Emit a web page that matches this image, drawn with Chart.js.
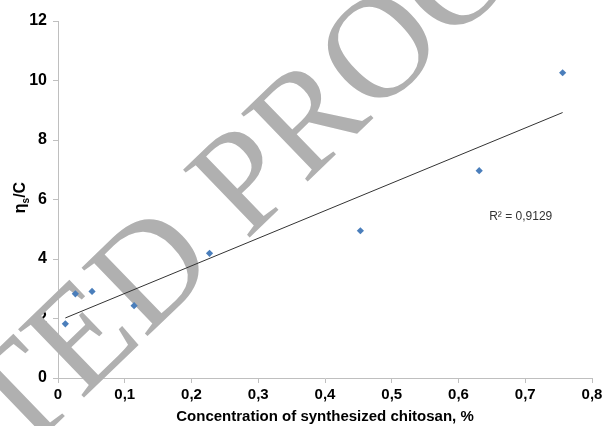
<!DOCTYPE html>
<html>
<head>
<meta charset="utf-8">
<script src="https://cdn.jsdelivr.net/npm/chart.js@4"></script>
<style>
  html, body { margin: 0; padding: 0; background: #fff; }
  #wrap { width: 608px; height: 426px; }
</style>
</head>
<body>
<div id="wrap"><canvas id="chart" width="608" height="426"></canvas></div>
<script>
// values
const concentration = [0.011, 0.026, 0.051, 0.114, 0.227, 0.453, 0.631, 0.756];
const viscosity = [1.82, 2.83, 2.91, 2.43, 4.19, 4.95, 6.97, 10.26];
const xTicks = [0, 0.1, 0.2, 0.3, 0.4, 0.5, 0.6, 0.7, 0.8];
const yTicks = [0, 2, 4, 6, 8, 10, 12];
const r2Label = "R\u00b2 = 0,9129";
const watermark = "UNCORRECTED PROOF";

const FONT = "'Liberation Sans Narrow', 'Liberation Sans', Arial, sans-serif";

// linear trendline (least squares), drawn over the data range
const fitLine = (xs, ys) => {
  const n = xs.length;
  const mx = xs.reduce((a, b) => a + b, 0) / n;
  const my = ys.reduce((a, b) => a + b, 0) / n;
  let sxy = 0, sxx = 0;
  xs.forEach((x, i) => { sxy += (x - mx) * (ys[i] - my); sxx += (x - mx) ** 2; });
  const k = sxy / sxx, b = my - k * mx;
  const x0 = Math.min(...xs), x1 = Math.max(...xs);
  return [{ x: x0, y: k * x0 + b }, { x: x1, y: k * x1 + b }];
};

const points = concentration.map((x, i) => ({ x, y: viscosity[i] }));

const watermarkPlugin = {
  id: "watermark",
  beforeDatasetsDraw(chart) {
    const ctx = chart.ctx;
    ctx.save();
    ctx.font = "145px 'Liberation Serif', 'DejaVu Serif', serif";
    ctx.fillStyle = "#b0b0b0";
    ctx.textBaseline = "alphabetic";
    ctx.translate(246, 241);
    ctx.rotate(-44 * Math.PI / 180);
    const off = ctx.measureText("UNCORRECTED ").width;
    ctx.fillText(watermark, -off, 0);
    ctx.restore();
  },
};

const labelsPlugin = {
  id: "labels",
  afterDatasetsDraw(chart) {
    const ctx = chart.ctx;
    const { x, y } = chart.scales;
    ctx.save();
    // R² label
    ctx.font = "12px " + FONT;
    ctx.fillStyle = "#333";
    ctx.textBaseline = "middle";
    ctx.textAlign = "left";
    ctx.fillText(r2Label, x.getPixelForValue(0.646), y.getPixelForValue(5.42));
    ctx.restore();

    // y axis title with subscript
    ctx.save();
    ctx.translate(21, (y.top + y.bottom) / 2 - 2);
    ctx.rotate(-Math.PI / 2);
    ctx.fillStyle = "#000";
    ctx.textBaseline = "middle";
    ctx.font = "bold 16px " + FONT;
    const w1 = ctx.measureText("\u03b7").width;
    ctx.font = "bold 10px " + FONT;
    const w2 = ctx.measureText("s").width;
    ctx.font = "bold 16px " + FONT;
    const w3 = ctx.measureText("/C").width;
    let cx = -(w1 + w2 + w3) / 2;
    ctx.textAlign = "left";
    ctx.fillText("\u03b7", cx, 0);
    cx += w1;
    ctx.font = "bold 10px " + FONT;
    ctx.fillText("s", cx, 5);
    cx += w2;
    ctx.font = "bold 16px " + FONT;
    ctx.fillText("/C", cx, 0);
    ctx.restore();
  },
};

new Chart(document.getElementById("chart"), {
  type: "scatter",
  data: {
    datasets: [
      {
        label: "data",
        data: points,
        pointStyle: "rectRot",
        pointRadius: 3.6,
        backgroundColor: "#4a7ebb",
        borderColor: "#4a7ebb",
        borderWidth: 0,
      },
      {
        type: "line",
        label: "trend",
        data: fitLine(concentration, viscosity),
        borderColor: "#333",
        borderWidth: 1,
        pointRadius: 0,
        fill: false,
      },
    ],
  },
  options: {
    responsive: false,
    animation: false,
    layout: { padding: { top: 21, right: 16, left: 0, bottom: 0 } },
    plugins: {
      legend: { display: false },
      tooltip: { enabled: false },
    },
    scales: {
      x: {
        type: "linear",
        min: 0,
        max: 0.8,
        afterBuildTicks: (s) => { s.ticks = xTicks.map((v) => ({ value: v })); },
        afterFit: (s) => { s.height = 48; },
        grid: { drawOnChartArea: false, drawTicks: true, tickLength: 5, color: "#bfbfbf" },
        border: { color: "#bfbfbf" },
        ticks: {
          color: "#000",
          padding: 3,
          maxRotation: 0,
          font: { family: FONT, size: 15, weight: "bold" },
          callback: (v) => (v === 0 ? "0" : v.toFixed(1).replace(".", ",")),
        },
        title: {
          display: true,
          text: "Concentration of synthesized chitosan, %",
          color: "#000",
          padding: { top: 0, bottom: 0 },
          font: { family: FONT, size: 15, weight: "bold" },
        },
      },
      y: {
        min: 0,
        max: 12,
        afterBuildTicks: (s) => { s.ticks = yTicks.map((v) => ({ value: v })); },
        afterFit: (s) => { s.width = 58; },
        grid: { drawOnChartArea: false, drawTicks: true, tickLength: 5, color: "#bfbfbf" },
        border: { color: "#bfbfbf" },
        ticks: {
          color: "#000",
          padding: 6,
          font: { family: FONT, size: 16, weight: "bold" },
        },
      },
    },
  },
  plugins: [watermarkPlugin, labelsPlugin],
});
</script>
</body>
</html>
